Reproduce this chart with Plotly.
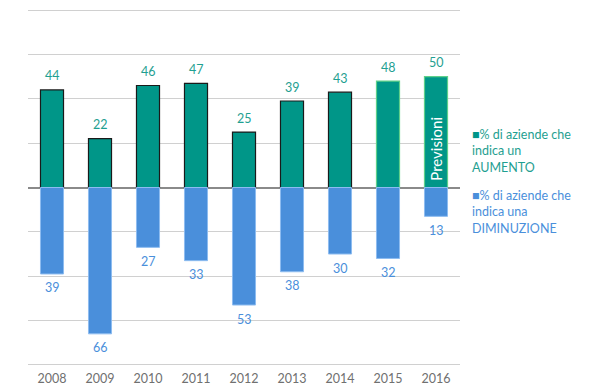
import plotly.graph_objects as go

years = ["2008", "2009", "2010", "2011", "2012", "2013", "2014", "2015", "2016"]
aumento = [44, 22, 46, 47, 25, 39, 43, 48, 50]
diminuzione = [39, 66, 27, 33, 53, 38, 30, 32, 13]

GREEN = "#009688"
GREEN_TXT = "#1fa091"
BLUE = "#4a8fdb"
BLUE_TXT = "#4a8fdb"
FONT = "Lato"

green_lines = ["#1a1a1a"] * 7 + ["#5fd08a"] * 2

fig = go.Figure(layout=dict(
    width=592, height=383,
    margin=dict(l=20, r=140, t=1, b=25, autoexpand=False),
    paper_bgcolor="white", plot_bgcolor="white",
    barmode="relative",
    font=dict(family=FONT),
    showlegend=False,
    xaxis=dict(type="category", range=[-0.5, len(years) - 0.5], autorange=False,
               showgrid=False, ticks="", ticklabelstandoff=3,
               tickfont=dict(family=FONT, size=12.5, color="#707070"), showline=False),
    yaxis=dict(range=[-80.5, 80.5], autorange=False, dtick=20, tick0=0, showticklabels=False,
               gridcolor="#d0d0d0", zeroline=True, zerolinecolor="#8a8a8a", zerolinewidth=2),
))
fig.add_trace(go.Bar(
    x=years, y=aumento, name="% di aziende che indica un AUMENTO",
    marker=dict(color=GREEN, line=dict(color=green_lines, width=1.2)),
    width=0.48,
))
fig.add_trace(go.Bar(
    x=years, y=[-v for v in diminuzione], name="% di aziende che indica una DIMINUZIONE",
    marker=dict(color=BLUE, line=dict(color="#8dbcf0", width=1)),
    width=0.48,
))

for i, v in enumerate(aumento):
    fig.add_annotation(x=i, y=v, text=str(v), showarrow=False, yshift=14,
                       font=dict(family=FONT, size=12.5, color=GREEN_TXT))
for i, v in enumerate(diminuzione):
    fig.add_annotation(x=i, y=-v, text=str(v), showarrow=False, yshift=-14,
                       font=dict(family=FONT, size=12.5, color=BLUE_TXT))

fig.add_annotation(x=len(years) - 1, y=17.5, text="Previsioni", textangle=-90,
                   showarrow=False, font=dict(family=FONT, size=15, color="white"))

fig.add_annotation(xref="paper", yref="paper", x=1.024, y=0.675, xanchor="left", yanchor="top",
                   align="left", showarrow=False,
                   text="<span style='color:" + GREEN + "'>■</span>% di aziende che<br>indica un<br>AUMENTO",
                   font=dict(family=FONT, size=12.5, color=GREEN_TXT))
fig.add_annotation(xref="paper", yref="paper", x=1.024, y=0.505, xanchor="left", yanchor="top",
                   align="left", showarrow=False,
                   text="<span style='color:" + BLUE + "'>■</span>% di aziende che<br>indica una<br>DIMINUZIONE",
                   font=dict(family=FONT, size=12.5, color=BLUE_TXT))

fig.write_html("out.html")
